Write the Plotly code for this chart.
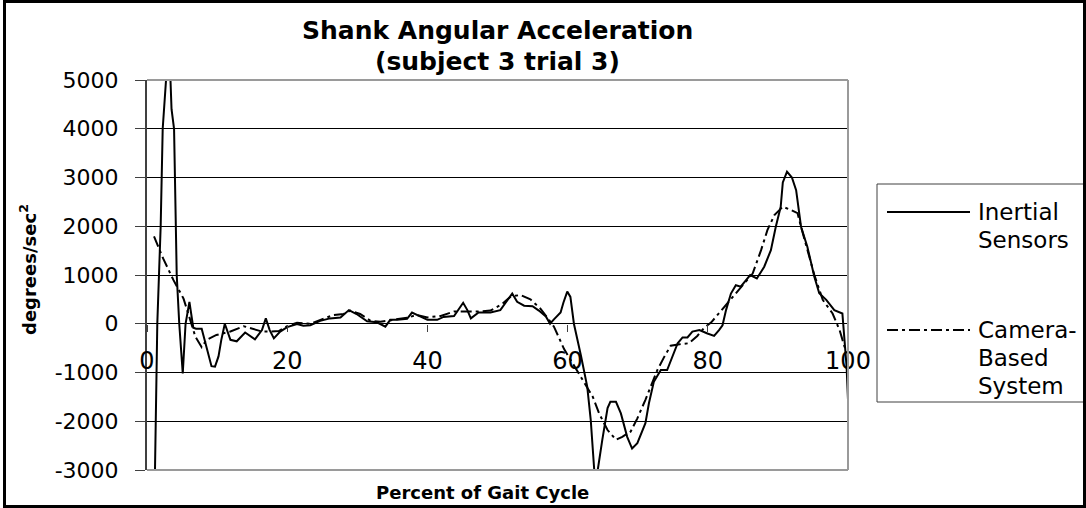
import plotly.graph_objects as go

# ---------------- data ----------------
inertial_x = [1.0, 1.14, 1.47, 1.95, 2.24, 2.5, 2.7, 3.0, 3.35, 3.5, 3.86, 4.1, 4.24, 4.6,
              5.1, 5.5, 6.05, 6.6, 7.0, 7.8, 8.5, 9.2, 9.7, 10.2, 10.6, 11.1, 11.9, 12.8,
              14.0, 15.4, 16.4, 16.95, 17.5, 18.1, 19.0, 20.0, 21.4, 22.3, 23.3, 24.7,
              26.1, 27.6, 28.8, 29.9, 31.4, 32.8, 34.0, 34.7, 35.7, 37.1, 37.8, 39.0,
              40.0, 41.4, 42.3, 43.8, 44.5, 45.1, 45.7, 46.2, 47.3, 49.0, 50.4, 51.4,
              52.1, 52.8, 53.8, 55.0, 55.9, 56.9, 57.5, 58.05, 59.0, 59.4, 59.95, 60.4,
              60.9, 61.9, 62.8, 63.3, 63.8, 64.0, 64.3, 64.95, 65.7, 66.1, 66.9, 67.6,
              68.5, 69.2, 69.95, 71.1, 71.6, 72.3, 73.3, 74.2, 74.95, 75.7, 76.4, 77.1,
              77.8, 78.8, 79.95, 80.9, 81.6, 82.1, 82.6, 83.3, 84.0, 84.7, 86.05, 87.0,
              88.05, 89.0, 89.7, 90.4, 90.7, 91.3, 92.0, 92.6, 93.3, 94.2, 95.2, 95.9,
              96.9, 98.05, 99.2, 99.5, 99.8, 100.0]
inertial_y = [-3400, -3000, 0, 2000, 4000, 4600, 5000, 5600, 5000, 4400, 4000, 2000, 1000, 0,
              -1020, 0, 450, -80, -100, -100, -500, -870, -880, -670, -330, 0, -330, -360,
              -180, -320, -130, 110, -130, -300, -160, -70, -5, -40, -30, 60,
              110, 130, 280, 200, 50, 30, -60, 80, 80, 100, 230, 140,
              80, 80, 140, 160, 320, 430, 280, 110, 230, 230, 280, 490,
              620, 450, 370, 360, 270, 150, 0, 90, 230, 430, 660, 550,
              0, -650, -1290, -1970, -3000, -3080, -3000, -2380, -1730, -1600, -1600, -1840,
              -2320, -2560, -2450, -2040, -1630, -1190, -950, -950, -675, -400, -280, -280,
              -160, -130, -200, -250, -130, -30, 280, 620, 790, 760, 1000, 930,
              1170, 1510, 1990, 2400, 2900, 3120, 3000, 2740, 1990, 1580, 965, 625,
              490, 280, 210, -265, -880, -1560]

camera_x = [1.0, 2.3, 3.76, 5.2, 6.1, 6.9, 7.8, 8.5, 9.9, 11.9, 13.8, 14.95, 16.4, 17.6,
            18.8, 20.0, 21.4, 23.3, 25.2, 26.6, 28.05, 29.0, 30.4, 31.9, 33.3, 35.2, 37.1,
            38.5, 40.0, 41.9, 43.8, 45.0, 47.3, 49.0, 50.6, 51.9, 53.3, 54.7, 56.1, 57.3,
            58.05, 59.5, 61.5, 63.6, 64.5, 65.7, 66.9, 67.8, 69.0, 69.95, 71.1, 71.9, 72.8,
            73.8, 74.7, 76.0, 77.3, 78.5, 79.5, 80.5, 81.4, 82.6, 83.8, 85.2, 86.4, 87.6,
            88.5, 89.5, 90.7, 91.6, 92.8, 93.3, 94.2, 95.2, 96.4, 97.8, 98.8, 99.5, 100.0]
camera_y = [1790, 1340, 900, 520, 110, -265, -480, -330, -230, -160, -50, -95, -160, -160,
            -150, -50, 20, 0, 110, 180, 200, 270, 200, 60, 40, 80, 125,
            180, 130, 160, 250, 250, 250, 270, 400, 560, 590, 500, 315, 90,
            -60, -520, -1000, -1500, -1840, -2180, -2380, -2320, -2210, -1940, -1560, -1290, -950,
            -675, -450, -420, -400, -250, -80, 30, 180, 385, 590, 830, 1030, 1510,
            1920, 2230, 2400, 2350, 2270, 1990, 1510, 1000, 490, 210, -130, -470, -540]

x_ticks = [0, 20, 40, 60, 80, 100]
y_ticks = [-3000, -2000, -1000, 0, 1000, 2000, 3000, 4000, 5000]

title_lines = ["Shank Angular Acceleration", "(subject 3 trial 3)"]
legend_names = ["Inertial Sensors", "Camera-Based System"]

# ---------------- layout geometry (pixels) ----------------
W, H = 1086, 508
L, R, T, B = 147, 848, 80, 470          # plot area edges in px
FONT = "DejaVu Sans"


def px(xp):
    return (xp - L) / (R - L)


def py(yp):
    return (B - yp) / (B - T)


fig = go.Figure()
fig.add_trace(go.Scatter(x=inertial_x, y=inertial_y, mode="lines", name=legend_names[0],
                         line=dict(color="black", width=2), showlegend=False))
fig.add_trace(go.Scatter(x=camera_x, y=camera_y, mode="lines", name=legend_names[1],
                         line=dict(color="black", width=2, dash="11px,4px,3px,4px"),
                         showlegend=False))

shapes = []
# plot-area border (top, right, bottom) in grey
for (x0, y0, x1, y1) in [(0, 1, 1, 1), (1, 0, 1, 1), (0, 0, 1, 0)]:
    shapes.append(dict(type="line", xref="paper", yref="paper", x0=x0, y0=y0, x1=x1, y1=y1,
                       line=dict(color="#9a9a9a", width=2), layer="above"))
# legend box
shapes.append(dict(type="rect", xref="paper", yref="paper",
                   x0=px(877), x1=px(1084), y0=py(402), y1=py(184),
                   line=dict(color="#404040", width=1), fillcolor="white", layer="above"))
# legend samples
shapes.append(dict(type="line", xref="paper", yref="paper", x0=px(887), x1=px(970),
                   y0=py(212), y1=py(212), line=dict(color="black", width=2), layer="above"))
shapes.append(dict(type="line", xref="paper", yref="paper", x0=px(887), x1=px(970),
                   y0=py(330), y1=py(330),
                   line=dict(color="black", width=2, dash="11px,4px,3px,4px"), layer="above"))
# outer chart border
shapes.append(dict(type="rect", xref="paper", yref="paper",
                   x0=px(4.5), x1=px(1084.5), y0=py(506.5), y1=py(1.5),
                   line=dict(color="black", width=3), layer="above"))

annotations = []
annotations.append(dict(text="<b>" + title_lines[0] + "</b>", x=px(498), y=py(30),
                        xref="paper", yref="paper", showarrow=False, xanchor="center",
                        yanchor="middle", font=dict(family=FONT, size=25, color="black")))
annotations.append(dict(text="<b>" + title_lines[1] + "</b>", x=px(498), y=py(62),
                        xref="paper", yref="paper", showarrow=False, xanchor="center",
                        yanchor="middle", font=dict(family=FONT, size=25, color="black")))
annotations.append(dict(text="<b>Percent of Gait Cycle</b>", x=px(482), y=py(492),
                        xref="paper", yref="paper", showarrow=False, xanchor="center",
                        yanchor="middle", font=dict(family=FONT, size=18, color="black")))
annotations.append(dict(text="<b>degrees/sec<sup>2</sup></b>", x=px(28), y=py(270),
                        xref="paper", yref="paper", showarrow=False, xanchor="center",
                        yanchor="middle", textangle=-90,
                        font=dict(family=FONT, size=18, color="black")))
leg_lines = [("Inertial", 212), ("Sensors", 240), ("Camera-", 330), ("Based", 358),
             ("System", 386)]
for txt, yy in leg_lines:
    annotations.append(dict(text=txt, x=px(976), y=py(yy), xref="paper", yref="paper",
                            showarrow=False, xanchor="left", yanchor="middle",
                            font=dict(family=FONT, size=23, color="black")))

fig.update_layout(
    width=W, height=H,
    margin=dict(l=L, r=W - R, t=T, b=H - B, pad=0),
    paper_bgcolor="white", plot_bgcolor="white",
    showlegend=False,
    shapes=shapes, annotations=annotations,
    xaxis=dict(range=[0, 100], tickvals=x_ticks, ticktext=[str(v) for v in x_ticks],
               showgrid=False, zeroline=False, showline=False,
               anchor="free", position=py(323.75), side="bottom",
               ticks="outside", ticklen=7, tickwidth=1, tickcolor="#404040",
               ticklabelstandoff=8,
               tickfont=dict(family=FONT, size=24, color="black")),
    yaxis=dict(range=[-3000, 5000], tickvals=y_ticks, ticktext=[str(v) for v in y_ticks],
               showgrid=True, gridcolor="black", gridwidth=1, zeroline=False,
               showline=True, linecolor="#404040", linewidth=2,
               ticks="outside", ticklen=10, tickwidth=1, tickcolor="#404040",
               ticklabelstandoff=12,
               tickfont=dict(family=FONT, size=22, color="black")),
)

fig.write_html("out.html", config={"displayModeBar": False},
               post_script="document.body.style.margin='0';document.body.style.overflow='hidden';")
